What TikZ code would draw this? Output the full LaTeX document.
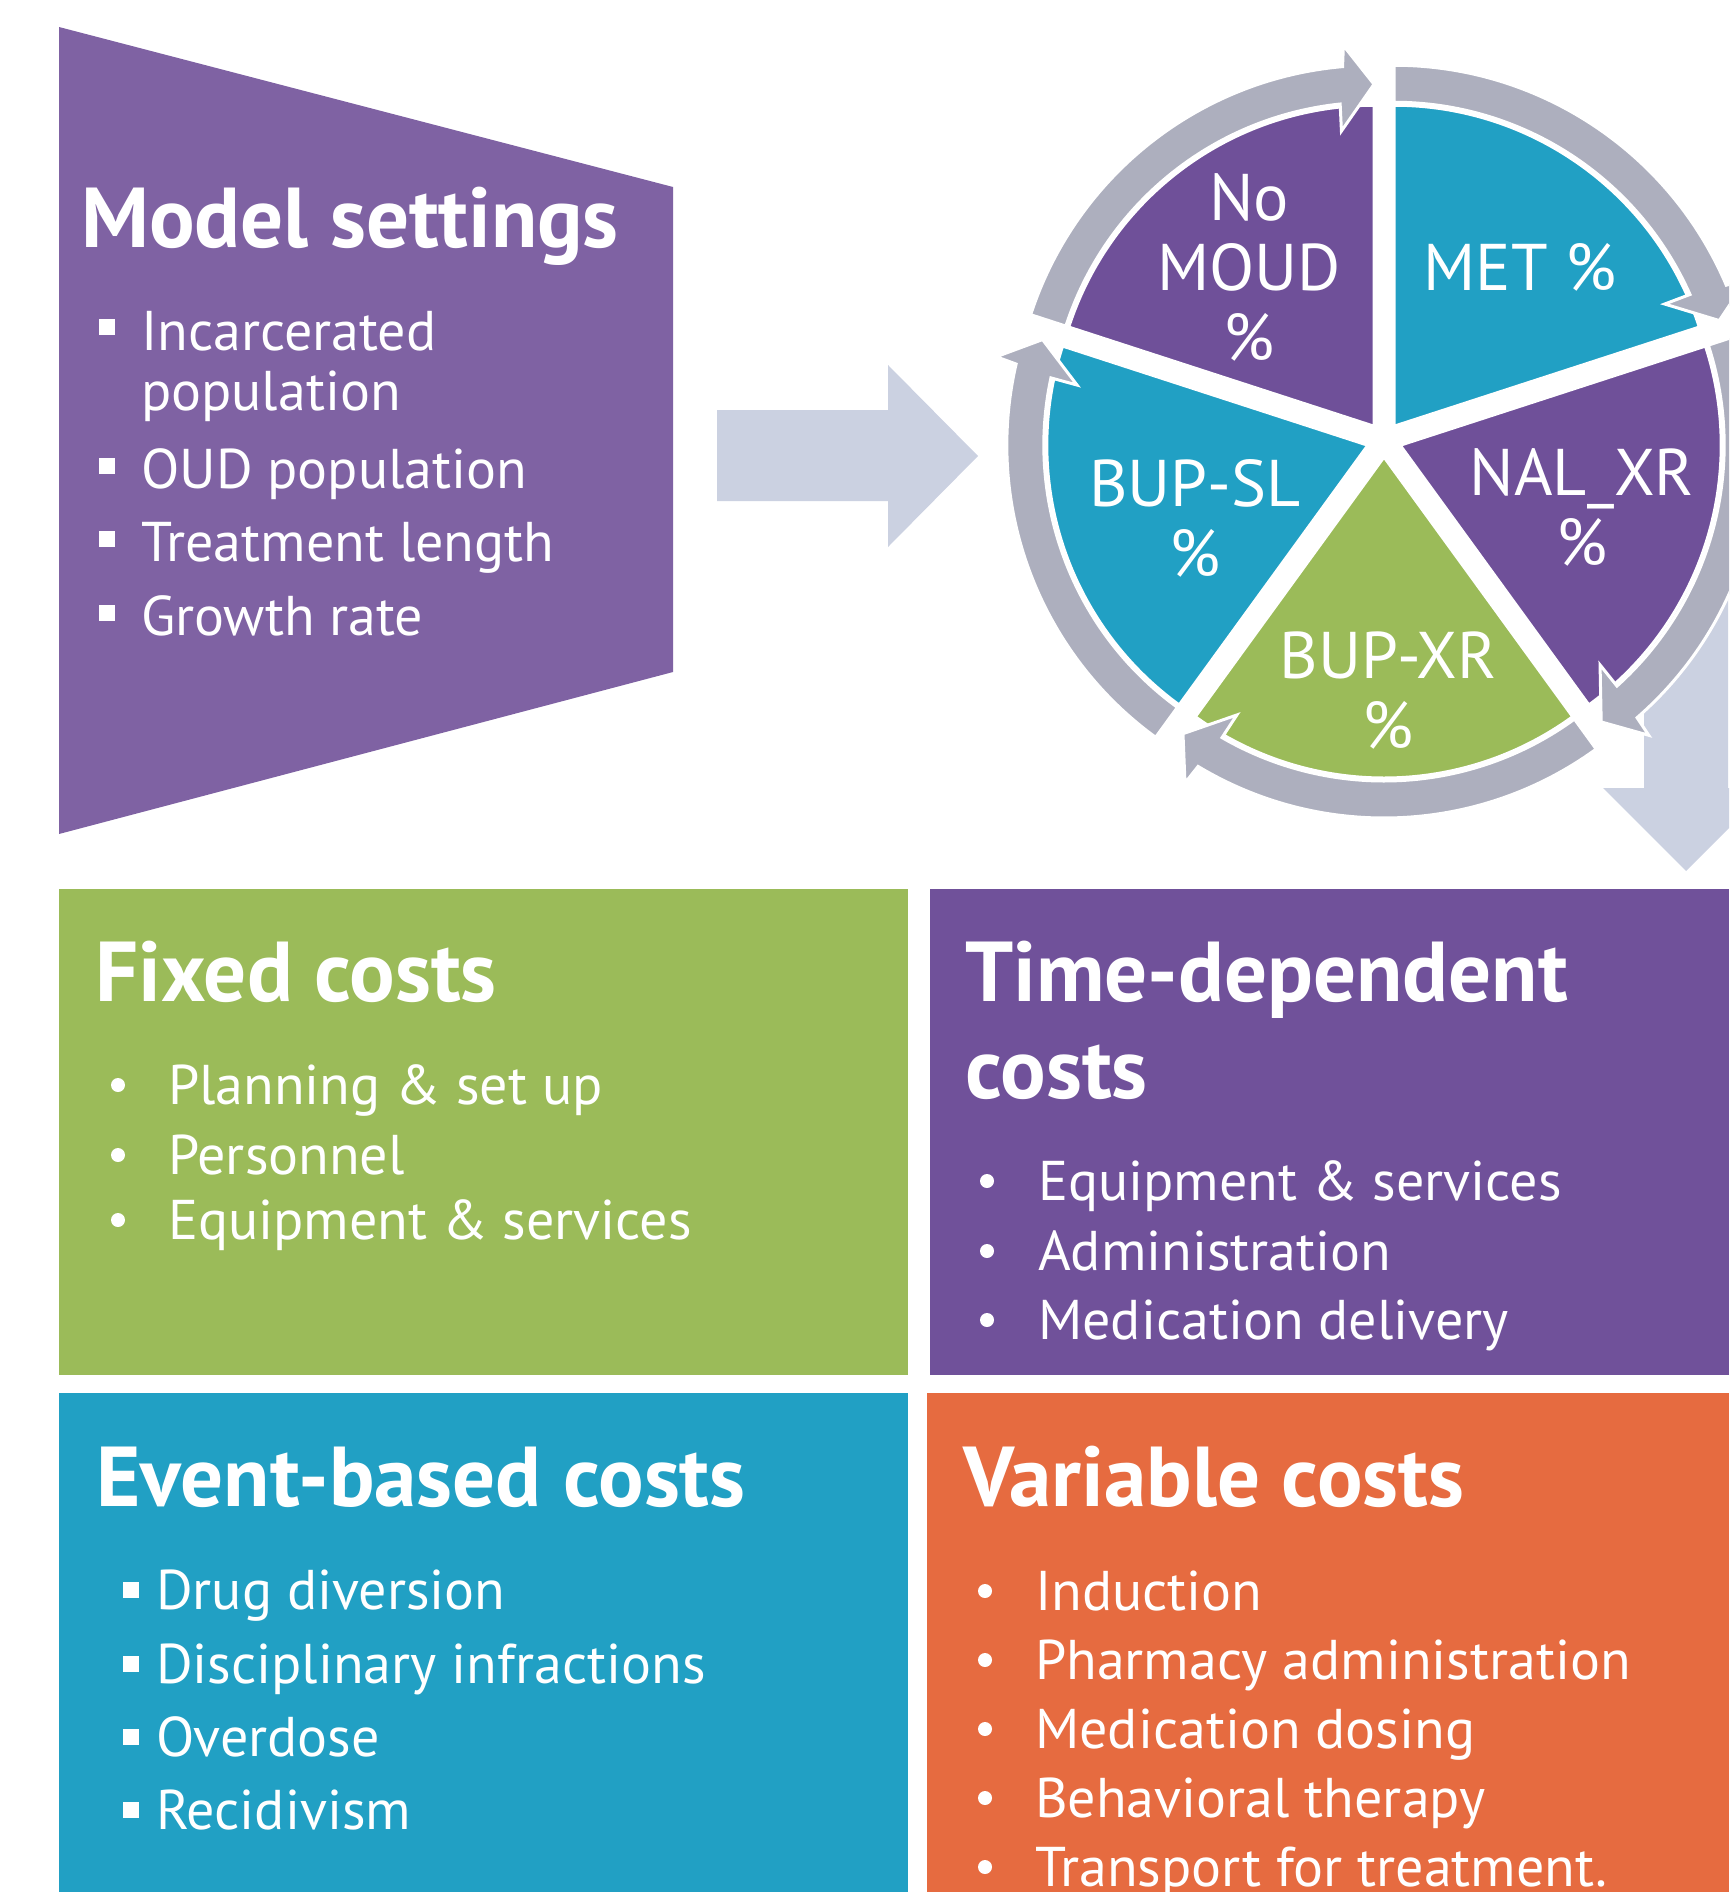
\documentclass[tikz,border=0pt]{standalone}
\usepackage{fontspec}
\setmainfont{PT Sans}
\definecolor{mspurple}{RGB}{127,98,163}
\definecolor{piepurple}{RGB}{111,80,153}
\definecolor{boxpurple}{RGB}{112,81,154}
\definecolor{pieteal}{RGB}{33,160,196}
\definecolor{piegreen}{RGB}{155,187,89}
\definecolor{boxorange}{RGB}{230,107,64}
\definecolor{ringgray}{RGB}{173,175,190}
\definecolor{lightarrow}{RGB}{203,209,225}
\begin{document}
\begin{tikzpicture}[x=1pt,y=1pt]
\tikzset{
 itemtxt/.style={anchor=base west, inner sep=0, text=white, font=\fontsize{56}{66}\selectfont},
 titletxt/.style={anchor=base west, inner sep=0, text=white, font=\fontsize{85}{96}\selectfont\bfseries},
 sqbul/.style={rectangle, fill=white, minimum size=16, inner sep=0},
 dotbul/.style={circle, fill=white, minimum size=14, inner sep=0},
 pielbl/.style={align=center, text=white, inner sep=0, font=\fontsize{66}{70}\selectfont, anchor=base},
 ringarrow/.style={fill=ringgray, draw=white, line width=3, line join=miter},
 slicefill/.style={draw=white, line width=3, line join=round},
}
\useasboundingbox (0,0) rectangle (1729,-1892);
\clip (0,0) rectangle (1729,-1892);

% Model settings trapezoid
\fill[mspurple] (59,-27) -- (673,-187) -- (673,-672) -- (59,-834) -- cycle;
\node[titletxt] (mstitle) at (81,-247) {Model settings};
\node[sqbul] (msb1) at (107,-327) {};
\node[itemtxt] (ms1) at (141,-350) {Incarcerated};
\node[itemtxt] (ms1b) at (141,-410) {population};
\node[sqbul] (msb2) at (107,-466) {};
\node[itemtxt] (ms2) at (141,-488) {OUD population};
\node[sqbul] (msb3) at (107,-539) {};
\node[itemtxt] (ms3) at (141,-561) {Treatment length};
\node[sqbul] (msb4) at (107,-613) {};
\node[itemtxt] (ms4) at (141,-635) {Growth rate};

% right arrow
\fill[lightarrow] (717,-410) -- (888,-410) -- (888,-365) -- (978,-456) -- (888,-547) -- (888,-501) -- (717,-501) -- cycle;

% down arrow
\fill[lightarrow] (1644,-590) -- (1728,-590) -- (1728,-788) -- (1769,-788) -- (1686,-871) -- (1603,-788) -- (1644,-788) -- cycle;

% slices
\foreach \m/\c in {126/piepurple,54/pieteal,-18/piepurple,-90/piegreen,198/pieteal}{
 \begin{scope}[shift={(1384,-440)},shift={(\m:17)}]
  \path[slicefill,fill=\c] (0,0) -- (\m+36:321) arc[start angle=\m+36,end angle=\m-36,radius=321] -- cycle;
 \end{scope}
}
% ring arrows on top
\foreach \m in {126,54,-18,-90,198}{
 \begin{scope}[shift={(1384,-440)},shift={(\m:17)}]
  \path[ringarrow] (\m+36:361) arc[start angle=\m+36,end angle=\m-31,radius=361] -- (\m-31.4:382) -- (\m-36:342) -- (\m-29.7:297) -- (\m-30:324) arc[start angle=\m-30,end angle=\m+36,radius=324] -- cycle;
 \end{scope}
}

% pie labels (anchored at the baseline of the last line)
\node[pielbl] (nomoud) at (1249,-360) {No\\MOUD\\\%};
\node[pielbl] (met) at (1520,-290) {MET \%};
\node[pielbl] (nal) at (1582,-565) {NAL\_XR\\\%};
\node[pielbl] (bupsl) at (1195,-576) {BUP-SL\\\%};
\node[pielbl] (bupxr) at (1388,-748) {BUP-XR\\\%};

% boxes
\fill[piegreen] (59,-889) rectangle (908,-1375);
\fill[boxpurple] (930,-889) rectangle (1729,-1375);
\fill[pieteal] (59,-1393) rectangle (908,-1892);
\fill[boxorange] (927,-1393) rectangle (1729,-1892);

% Fixed costs
\node[titletxt] (fctitle) at (95,-1001) {Fixed costs};
\node[dotbul] (fcb1) at (118,-1085) {};
\node[itemtxt] (fc1) at (168,-1104) {Planning \& set up};
\node[dotbul] (fcb2) at (118,-1155) {};
\node[itemtxt] (fc2) at (168,-1174) {Personnel};
\node[dotbul] (fcb3) at (118,-1220) {};
\node[itemtxt] (fc3) at (168,-1239) {Equipment \& services};

% Time-dependent costs
\node[titletxt] (tdtitle) at (965,-1001) {Time-dependent};
\node[titletxt] (tdtitle2) at (965,-1098) {costs};
\node[dotbul] (tdb1) at (987,-1181) {};
\node[itemtxt] (td1) at (1038,-1200) {Equipment \& services};
\node[dotbul] (tdb2) at (987,-1251) {};
\node[itemtxt] (td2) at (1038,-1270) {Administration};
\node[dotbul] (tdb3) at (987,-1320) {};
\node[itemtxt] (td3) at (1038,-1339) {Medication delivery};

% Event-based costs
\node[titletxt] (ebtitle) at (96,-1506) {Event-based costs};
\node[sqbul] (ebb1) at (131,-1590) {};
\node[itemtxt] (eb1) at (156,-1609) {Drug diversion};
\node[sqbul] (ebb2) at (131,-1664) {};
\node[itemtxt] (eb2) at (156,-1683) {Disciplinary infractions};
\node[sqbul] (ebb3) at (131,-1737) {};
\node[itemtxt] (eb3) at (156,-1756) {Overdose};
\node[sqbul] (ebb4) at (131,-1810) {};
\node[itemtxt] (eb4) at (156,-1829) {Recidivism};

% Variable costs
\node[titletxt] (vctitle) at (963,-1506) {Variable costs};
\node[dotbul] (vcb1) at (985,-1591) {};
\node[itemtxt] (vc1) at (1035,-1610) {Induction};
\node[dotbul] (vcb2) at (985,-1660) {};
\node[itemtxt] (vc2) at (1035,-1679) {Pharmacy administration};
\node[dotbul] (vcb3) at (985,-1729) {};
\node[itemtxt] (vc3) at (1035,-1748) {Medication dosing};
\node[dotbul] (vcb4) at (985,-1798) {};
\node[itemtxt] (vc4) at (1035,-1817) {Behavioral therapy};
\node[dotbul] (vcb5) at (985,-1867) {};
\node[itemtxt] (vc5) at (1035,-1886) {Transport for treatment.};
\end{tikzpicture}
\end{document}
